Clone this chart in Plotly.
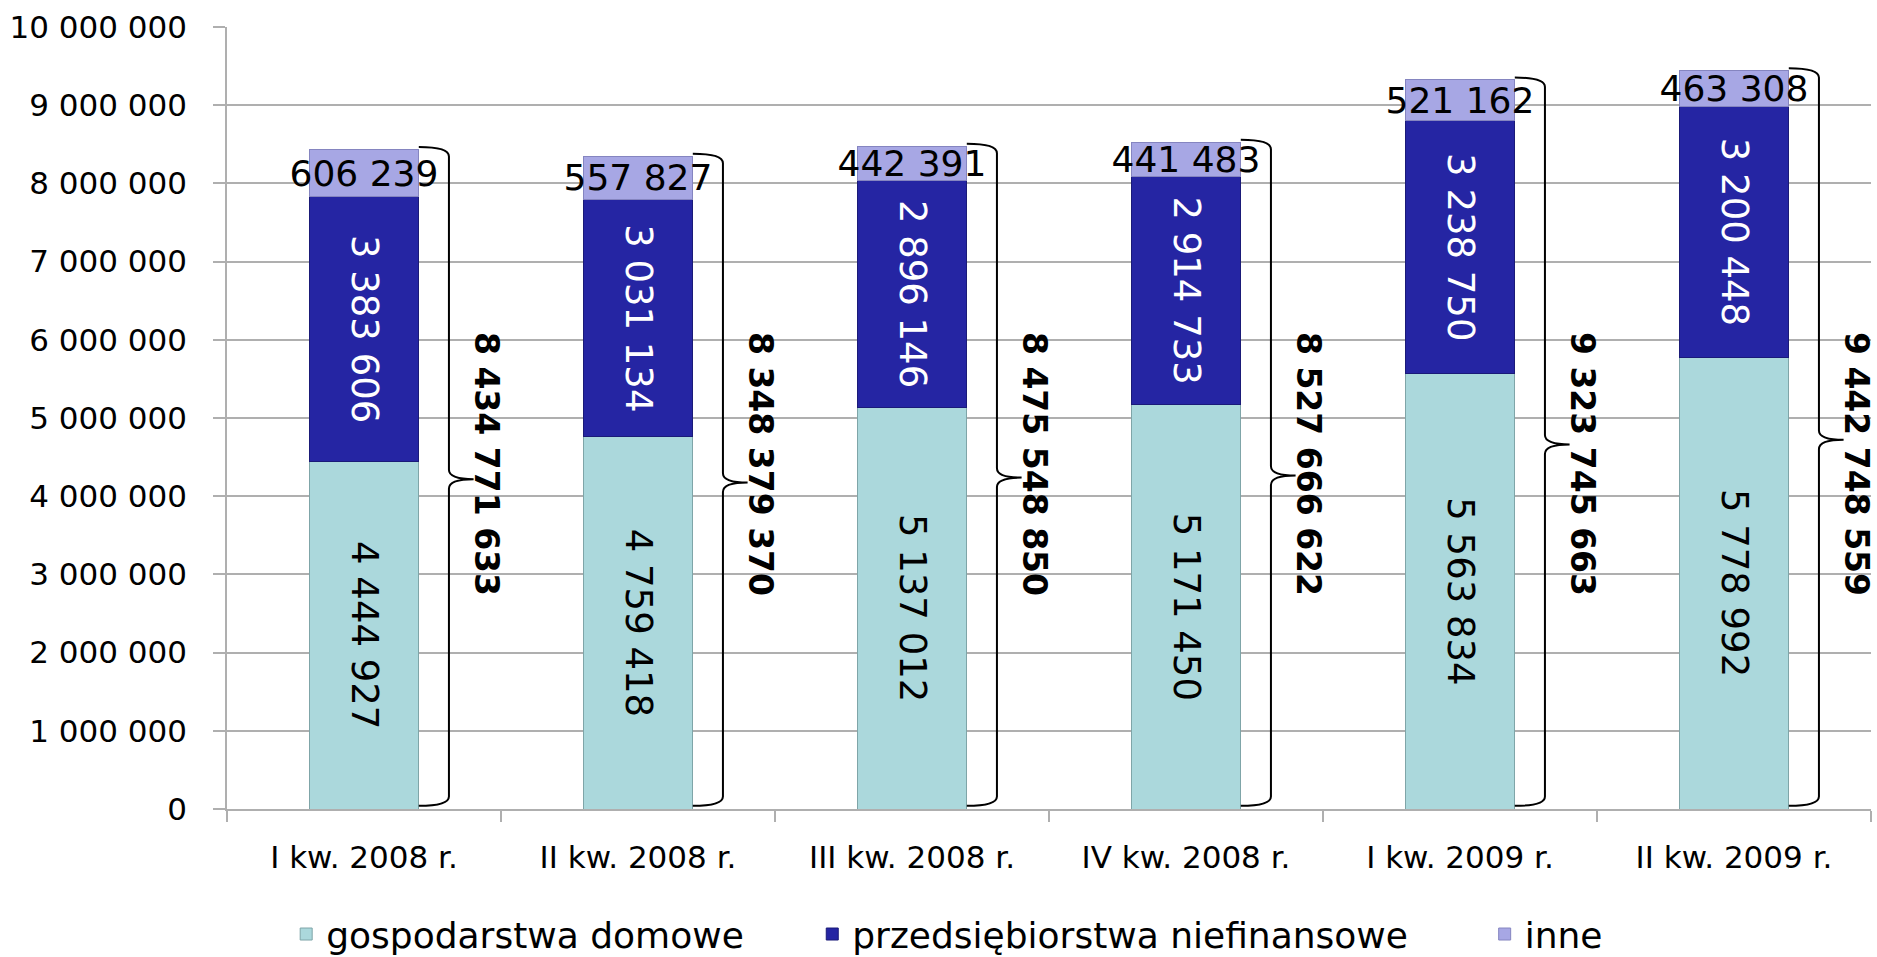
import plotly.graph_objects as go

# ---- data ----
categories = ["I kw. 2008 r.", "II kw. 2008 r.", "III kw. 2008 r.",
              "IV kw. 2008 r.", "I kw. 2009 r.", "II kw. 2009 r."]
gospodarstwa = [4444927, 4759418, 5137012, 5171450, 5563834, 5778992]
przedsiebiorstwa = [3383606, 3031134, 2896146, 2914733, 3238750, 3200448]
inne = [606239, 557827, 442391, 441483, 521162, 463308]
totals = [8434771633, 8348379370, 8475548850, 8527666622, 9323745663, 9442748559]
y_ticks = [0, 1000000, 2000000, 3000000, 4000000, 5000000,
           6000000, 7000000, 8000000, 9000000, 10000000]

FONT = "DejaVu Sans"


def fmt(v):
    return f"{v:,}".replace(",", " ")


xs = list(range(len(categories)))
stack_tops = [a + b + c for a, b, c in zip(gospodarstwa, przedsiebiorstwa, inne)]

fig = go.Figure()

fig.add_trace(go.Bar(
    x=xs, y=gospodarstwa, name="gospodarstwa domowe",
    marker=dict(color="#ABD8DC", line=dict(color="#7FA5A8", width=1)),
    text=[fmt(v) for v in gospodarstwa], textposition="inside",
    insidetextanchor="middle", textangle=90, constraintext="none",
    textfont=dict(family=FONT, size=37, color="black"),
    legend="legend", hoverinfo="skip",
))
fig.add_trace(go.Bar(
    x=xs, y=przedsiebiorstwa, name="przedsiębiorstwa niefinansowe",
    marker=dict(color="#2525A3", line=dict(color="#1A1A78", width=1)),
    text=[fmt(v) for v in przedsiebiorstwa], textposition="inside",
    insidetextanchor="middle", textangle=90, constraintext="none",
    textfont=dict(family=FONT, size=37, color="white"),
    legend="legend2", hoverinfo="skip",
))
fig.add_trace(go.Bar(
    x=xs, y=inne, name="inne",
    marker=dict(color="#A7A7E4", line=dict(color="#8585C0", width=1)),
    text=[fmt(v) for v in inne], textposition="inside",
    insidetextanchor="middle", textangle=0, constraintext="none",
    textfont=dict(family=FONT, size=36, color="black"),
    legend="legend3", hoverinfo="skip",
))

# braces and totals
r = 120000
for i, top in enumerate(stack_tops):
    xa, xb, xc = i + 0.2, i + 0.31, i + 0.40
    yt, yb, ym = top + 30000, 40000, top / 2
    path = (f"M {xa},{yt} Q {xb},{yt} {xb},{yt - r} "
            f"L {xb},{ym + r} Q {xb},{ym} {xc},{ym} "
            f"Q {xb},{ym} {xb},{ym - r} "
            f"L {xb},{yb + r} Q {xb},{yb} {xa},{yb}")
    fig.add_shape(type="path", path=path, xref="x", yref="y",
                  line=dict(color="black", width=2))
    fig.add_annotation(x=i + 0.445, y=2700000, xref="x", yref="y",
                       text=f"<b>{fmt(totals[i])}</b>", textangle=90,
                       showarrow=False, xanchor="center", yanchor="bottom",
                       font=dict(family=FONT, size=33, color="black"))

grid_col = "#AFAFAF"
legend_common = dict(orientation="h", y=-0.160, xanchor="left",
                     yanchor="middle", font=dict(family=FONT, size=36),
                     bgcolor="rgba(0,0,0,0)")
fig.update_layout(
    width=1877, height=957,
    barmode="stack", bargap=0.603,
    plot_bgcolor="white", paper_bgcolor="white",
    margin=dict(l=227, r=6, t=27, b=148, autoexpand=False),
    font=dict(family=FONT, color="black"),
    xaxis=dict(
        range=[-0.5, 5.5], tickmode="array", tickvals=xs, ticktext=categories,
        ticks="", showgrid=False, zeroline=False, automargin=False,
        showline=True, linecolor=grid_col, linewidth=1.5,
        tickfont=dict(family=FONT, size=31, color="black"),
        ticklabelstandoff=20,
        minor=dict(tickmode="array",
                   tickvals=[v - 0.5 for v in xs] + [xs[-1] + 0.5],
                   ticks="outside", ticklen=11, tickcolor=grid_col,
                   tickwidth=1.5, showgrid=False),
    ),
    yaxis=dict(
        range=[0, 10000000], tickmode="array", tickvals=y_ticks,
        ticktext=[fmt(v) for v in y_ticks], automargin=False,
        showgrid=True, gridcolor=grid_col, gridwidth=1.5,
        zeroline=False, showline=True, linecolor=grid_col, linewidth=1.5,
        ticks="outside", ticklen=12, tickcolor=grid_col, tickwidth=1.5,
        tickfont=dict(family=FONT, size=31, color="black"),
        ticklabelstandoff=20,
    ),
    legend=dict(x=0.036, **legend_common),
    legend2=dict(x=0.356, **legend_common),
    legend3=dict(x=0.765, **legend_common),
    showlegend=True,
)

fig.write_html("out.html", config={"displayModeBar": False},
               post_script="document.body.style.margin='0';")
